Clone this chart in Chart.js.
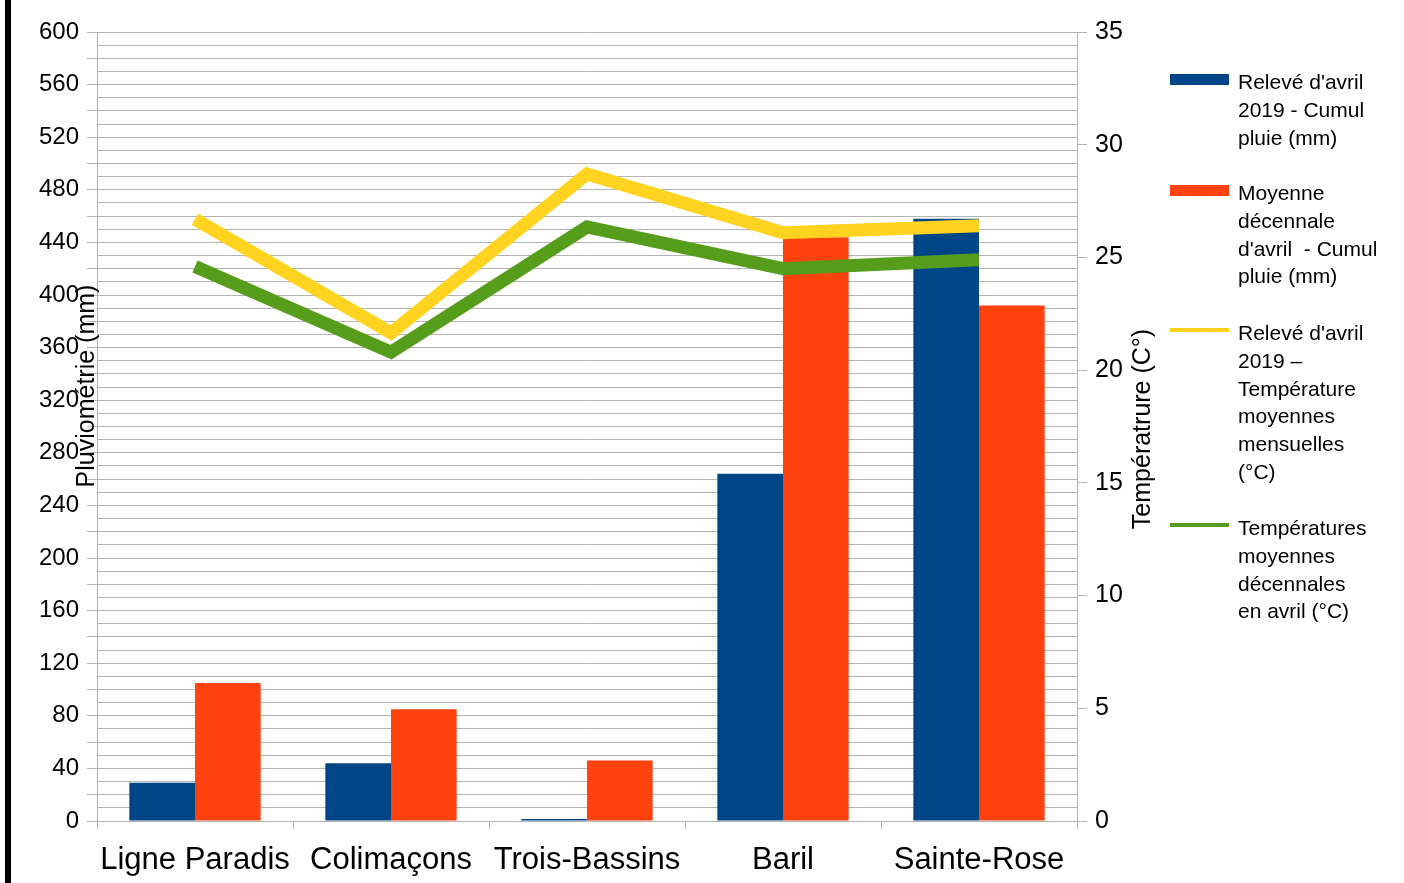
<!DOCTYPE html>
<html lang="fr">
<head>
<meta charset="utf-8">
<title>Pluviométrie et températures – avril 2019</title>
<script src="https://cdn.jsdelivr.net/npm/chart.js@4.4.1/dist/chart.umd.min.js"></script>
<style>
  html, body { margin: 0; padding: 0; background: #fff; }
  #wrap { position: relative; width: 1404px; height: 883px; overflow: hidden;
          font-family: "Liberation Sans", Arial, sans-serif; }
  #edge { position: absolute; left: 5px; top: 0; width: 6px; height: 883px; background: #000; }
  .leg { position: absolute; left: 1170px; font-size: 21px; line-height: 27.8px; color: #000; }
  .leg .mk { position: absolute; left: 0; width: 59px; }
  .leg .tx { position: absolute; left: 68px; white-space: nowrap; }
</style>
</head>
<body>
<div id="wrap">
  <canvas id="chart"></canvas>
  <div id="edge"></div>
  <div id="legend"></div>
</div>
<script>
// --- data ---
const stations = ['Ligne Paradis', 'Colimaçons', 'Trois-Bassins', 'Baril', 'Sainte-Rose'];

const pluie2019   = [29, 44, 1.5, 264, 458];     // mm
const pluieMoy10  = [105, 85, 46, 444, 392];     // mm
const temp2019    = [26.7, 21.65, 28.7, 26.1, 26.4]; // °C
const tempMoy10   = [24.6, 20.8, 26.35, 24.5, 24.9]; // °C

const labels2019Pluie = ["Relevé d'avril", '2019 - Cumul', 'pluie (mm)'];
const labelsMoyPluie  = ['Moyenne', 'décennale', "d'avril  - Cumul", 'pluie (mm)'];
const labels2019Temp  = ["Relevé d'avril", '2019 –', 'Température', 'moyennes', 'mensuelles', '(°C)'];
const labelsMoyTemp   = ['Températures', 'moyennes', 'décennales', 'en avril (°C)'];

const BLUE = '#004586', ORANGE = '#ff420e', YELLOW = '#ffd320', GREEN = '#579d1c';
const GRID = '#b3b3b3';
const FONT = '"Liberation Sans", Arial, sans-serif';

// axis titles sit on top of the tick labels, so they're drawn by hand
const axisTitles = {
  id: 'axisTitles',
  afterDraw(chart) {
    const c = chart.ctx;
    c.save();
    c.fillStyle = '#000';
    c.font = '25px ' + FONT;
    c.textAlign = 'center';
    c.textBaseline = 'middle';
    c.translate(87, 386);
    c.rotate(-Math.PI / 2);
    c.fillText('Pluviométrie (mm)', 0, 0);
    c.restore();

    c.save();
    c.fillStyle = '#000';
    c.font = '25px ' + FONT;
    c.textAlign = 'center';
    c.textBaseline = 'middle';
    c.translate(1143, 429);
    c.rotate(-Math.PI / 2);
    c.fillText('Températrure (C°)', 0, 0);
    c.restore();
  }
};

new Chart(document.getElementById('chart'), {
  type: 'bar',
  data: {
    labels: stations,
    datasets: [
      { type: 'line', label: labels2019Temp.join(' '), data: temp2019, yAxisID: 'y1',
        borderColor: YELLOW, borderWidth: 13, pointRadius: 0, tension: 0, order: 1 },
      { type: 'line', label: labelsMoyTemp.join(' '), data: tempMoy10, yAxisID: 'y1',
        borderColor: GREEN, borderWidth: 13, pointRadius: 0, tension: 0, order: 2 },
      { label: labels2019Pluie.join(' '), data: pluie2019, yAxisID: 'y',
        backgroundColor: BLUE, categoryPercentage: 0.67, barPercentage: 1, order: 3 },
      { label: labelsMoyPluie.join(' '), data: pluieMoy10, yAxisID: 'y',
        backgroundColor: ORANGE, categoryPercentage: 0.67, barPercentage: 1, order: 3 },
    ],
  },
  options: {
    responsive: true,
    maintainAspectRatio: false,
    animation: false,
    layout: { padding: { top: 32, right: 267, bottom: 0, left: 0 } },
    plugins: { legend: { display: false }, tooltip: { enabled: false } },
    scales: {
      x: {
        offset: true,
        grid: { offset: true, drawOnChartArea: false, color: GRID, tickLength: 8 },
        border: { color: GRID },
        ticks: { color: '#000', font: { family: FONT, size: 31 }, padding: 13, maxRotation: 0 },
        afterFit: (s) => { s.height = 62; },
      },
      y: {
        position: 'left',
        min: 0, max: 600,
        grid: {
          color: GRID,
          tickLength: 10,
          tickColor: (ctx) => (ctx.tick && ctx.tick.value % 20 === 0 ? GRID : 'rgba(0,0,0,0)'),
        },
        border: { color: GRID },
        ticks: {
          stepSize: 10, autoSkip: false, color: '#000', padding: 8,
          font: { family: FONT, size: 24 },
          callback: (v) => (v % 40 === 0 ? v : ''),
        },
        afterFit: (s) => { s.width = 97; },
      },
      y1: {
        position: 'right',
        min: 0, max: 35,
        grid: { drawOnChartArea: false, color: GRID, tickLength: 10 },
        border: { color: GRID },
        ticks: { stepSize: 5, color: '#000', padding: 8, font: { family: FONT, size: 25 } },
        afterFit: (s) => { s.width = 60; },
      },
    },
  },
  plugins: [axisTitles],
});

// legend on the right, multi-line entries as in the original
const legendEntries = [
  { lines: labels2019Pluie, color: BLUE,   kind: 'box',  top: 68 },
  { lines: labelsMoyPluie,  color: ORANGE, kind: 'box',  top: 179 },
  { lines: labels2019Temp,  color: YELLOW, kind: 'line', top: 319 },
  { lines: labelsMoyTemp,   color: GREEN,  kind: 'line', top: 514 },
];
const legendEl = document.getElementById('legend');
legendEntries.forEach((e) => {
  const d = document.createElement('div');
  d.className = 'leg';
  d.style.top = e.top + 'px';
  const mk = document.createElement('div');
  mk.className = 'mk';
  mk.style.background = e.color;
  mk.style.top = (e.kind === 'box' ? 6 : 9) + 'px';
  mk.style.height = (e.kind === 'box' ? 11 : 4) + 'px';
  const tx = document.createElement('div');
  tx.className = 'tx';
  tx.innerHTML = e.lines.map((l) => l.replace(/ /g, '&nbsp;')).join('<br>');
  d.appendChild(mk);
  d.appendChild(tx);
  legendEl.appendChild(d);
});
</script>
</body>
</html>
